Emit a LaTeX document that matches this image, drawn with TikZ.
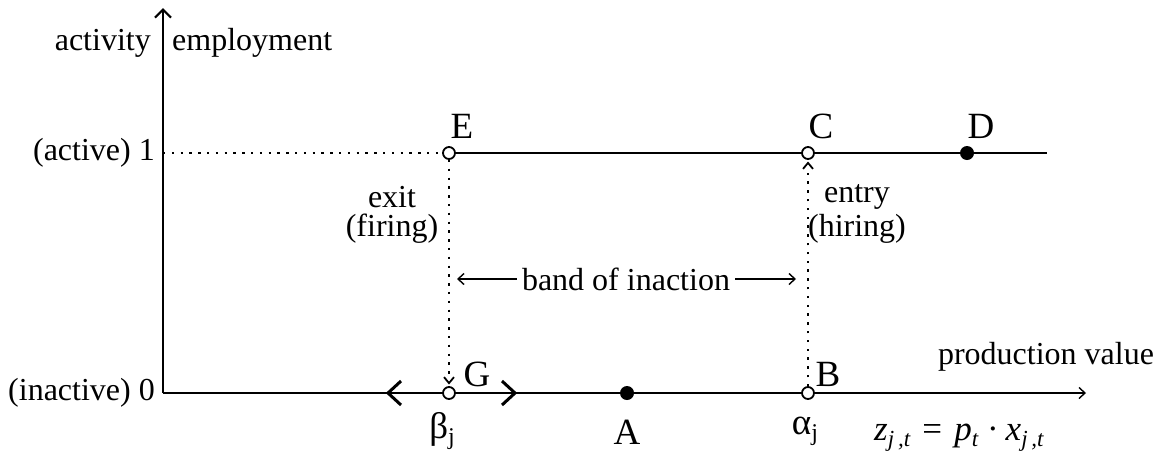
\documentclass[tikz,border=0pt]{standalone}
\usepackage{fontspec}
\setmainfont{Liberation Serif}
\usetikzlibrary{arrows.meta}
\newcommand{\mysub}[1]{\raisebox{-0.4ex}{\fontsize{23}{25}\selectfont\itshape #1}}
\begin{document}
\begin{tikzpicture}[x=1pt,y=-1pt,
  txt/.style={font=\fontsize{32}{35}\selectfont, inner sep=0pt},
  lbl/.style={font=\fontsize{37}{40}\selectfont, inner sep=0pt},
  thickline/.style={line width=2.6pt},
  axisline/.style={line width=2.2pt},
  dotline/.style={line width=2.4pt, dash pattern=on 2.4pt off 6.4pt},
  opendot/.style={circle, draw, fill=white, line width=1.8pt, inner sep=0pt, minimum size=12pt},
  fulldot/.style={circle, fill=black, inner sep=0pt, minimum size=14pt},
  bigtip/.style={-{Straight Barb[length=8pt,width=16pt,line width=2.2pt]}},
  smalltip/.style={-{Straight Barb[length=6pt,width=11pt,line width=1.4pt]}}
]
\useasboundingbox (0,0) rectangle (1161,451);
% coordinates
\coordinate (O) at (163,393);
\coordinate (Ytop) at (163,8);
\coordinate (One) at (163,153);
\coordinate (Xend) at (1086,393);
\coordinate (Lend) at (1047,153);
% axes
\draw[axisline,bigtip] (O) -- (Ytop);
% points
\node[opendot] (E) at (449,153) {};
\node[opendot] (C) at (808,153) {};
\node[fulldot] (D) at (967,153) {};
\node[opendot] (G) at (449,393) {};
\node[fulldot] (A) at (627,393) {};
\node[opendot] (B) at (808,393) {};
% lines
\draw[thickline] (O) -- (G) -- (A) -- (B);
\draw[line width=1.4pt,smalltip] (B) -- (Xend);
\draw[thickline] (E) -- (C) -- (D) -- (Lend);
\draw[dotline] (One) -- (E);
\draw[dotline] (E.south) -- ([yshift=8pt]G.north);
\draw[line width=1.8pt] ([xshift=-5pt,yshift=9pt]G.north) -- ([yshift=3pt]G.north) -- ([xshift=5pt,yshift=9pt]G.north);
\draw[dotline] (B.north) -- ([yshift=-8pt]C.south);
\draw[line width=1.8pt] ([xshift=-5pt,yshift=-9pt]C.south) -- ([yshift=-3pt]C.south) -- ([xshift=5pt,yshift=-9pt]C.south);
% chevrons at G
\draw[line width=3pt] (401,381) -- (388,393) -- (401,405);
\draw[line width=3pt] (502,381) -- (515,393) -- (502,405);
% band of inaction
\node[txt] (band) at (626,279) {band of inaction};
\draw[line width=1.4pt,smalltip] (band.west) ++(-5pt,0) -- (457,279);
\draw[line width=1.4pt,smalltip] (band.east) ++(5pt,0) -- (796,279);
% axis labels
\node[txt, anchor=east] (act) at (151,43) {activity};
\node[txt, anchor=west] (emp) at (172,43) {employment};
\node[txt, anchor=east] (l1) at (155,153) {(active)\ 1};
\node[txt, anchor=east] (l0) at (155,393) {(inactive)\ 0};
\node[txt] (exit) at (392,197) {exit};
\node[txt] (firing) at (392,229) {(firing)};
\node[txt] (entry) at (857,197) {entry};
\node[txt] (hiring) at (857,229) {(hiring)};
\node[txt] (pv) at (1046,357) {production value};
% point labels
\node[lbl] at (462,126) {E};
\node[lbl] at (821,126) {C};
\node[lbl] at (981,126) {D};
\node[lbl] at (477,374) {G};
\node[lbl] at (828,374) {B};
\node[lbl, anchor=base] at (627,444) {A};
\node[lbl] at (442,431) {β\raisebox{-0.35ex}{\fontsize{24}{26}\selectfont j}};
\node[lbl] at (805,431) {α\raisebox{-0.35ex}{\fontsize{24}{26}\selectfont j}};
\node[txt, anchor=base west] (form) at (874,440) {\fontsize{35}{37}\selectfont\itshape z\mysub{j\,,t}\hspace{0.35em}\upshape=\hspace{0.35em}\itshape p\mysub{t}\hspace{0.25em}\upshape·\hspace{0.2em}\itshape x\mysub{j\,,t}};
\end{tikzpicture}
\end{document}
